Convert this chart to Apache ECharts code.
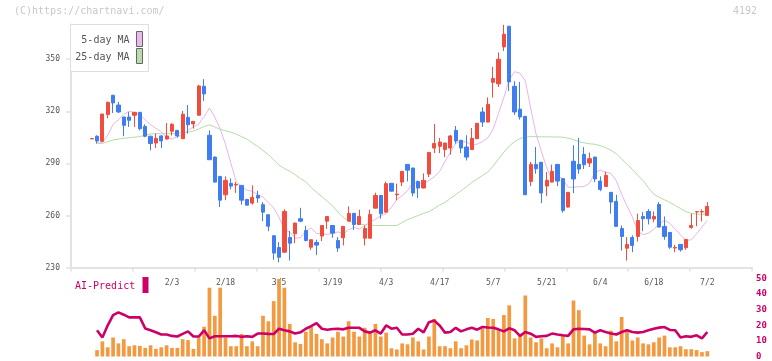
<!DOCTYPE html>
<html><head><meta charset="utf-8">
<script src="https://cdn.jsdelivr.net/npm/echarts@6/dist/echarts.min.js"></script>
<style>html,body{margin:0;padding:0;background:#fff}#c{width:772px;height:361px}</style>
</head><body><div id="c"></div>
<script>
const dates = ['1/13','1/14','1/15','1/16','1/19','1/20','1/21','1/22','1/23','1/26','1/27','1/28','1/29','1/30','2/2','2/3','2/4','2/5','2/6','2/9','2/10','2/12','2/13','2/16','2/17','2/18','2/19','2/20','2/24','2/25','2/26','2/27','3/2','3/3','3/4','3/5','3/6','3/9','3/10','3/11','3/12','3/13','3/16','3/17','3/18','3/19','3/23','3/24','3/25','3/26','3/27','3/30','3/31','4/1','4/2','4/3','4/6','4/7','4/8','4/9','4/10','4/13','4/14','4/15','4/16','4/17','4/20','4/21','4/22','4/23','4/24','4/27','4/28','4/30','5/1','5/7','5/8','5/11','5/12','5/13','5/14','5/15','5/18','5/19','5/20','5/21','5/22','5/25','5/26','5/27','5/28','5/29','6/1','6/2','6/3','6/4','6/5','6/8','6/9','6/10','6/11','6/12','6/15','6/16','6/17','6/18','6/19','6/22','6/23','6/24','6/25','6/26','6/29','6/30','7/1','7/2'];
const opens = [304.1,305.6,302.7,318.1,329.2,323.6,316.7,316.7,317.7,319.4,311.3,305.6,301.7,305.8,304.0,308.5,309.0,304.2,316.5,312.7,317.7,334.4,306.2,293.6,282.5,271.9,278.5,277.5,277.3,269.2,267.1,271.5,266.2,260.4,248.3,241.5,238.8,247.3,249.4,258.1,251.3,241.7,244.4,248.1,256.7,254.2,245.6,247.1,256.7,261.2,254.8,246.9,246.9,264.2,271.5,261.9,278.5,271.9,279.2,289.4,287.3,279.6,275.8,283.8,298.8,299.8,297.9,298.8,309.0,303.3,299.4,297.9,304.2,319.6,313.8,336.7,335.8,357.1,369.0,334.4,321.2,317.1,279.6,289.4,290.6,276.9,279.2,289.4,281.2,264.8,291.2,289.4,295.2,290.2,293.6,279.8,276.7,273.3,268.1,252.5,241.1,247.3,247.9,259.4,262.3,257.9,266.3,253.7,250.2,241.2,243.3,241.4,253.1,262.0,262.0,260.0];
const closes = [304.3,302.9,318.4,325.2,324.8,319.6,311.9,314.8,319.4,310.0,305.6,301.4,304.4,302.9,305.8,312.5,305.8,318.3,312.2,314.2,334.6,330.0,292.1,279.2,268.8,280.2,276.9,277.9,268.8,265.9,270.4,270.0,261.9,253.8,238.3,235.9,262.3,244.0,255.6,256.7,245.6,246.0,242.9,254.2,259.4,249.8,241.2,253.7,261.2,254.8,259.4,252.5,260.6,271.5,261.0,278.3,274.0,272.3,285.4,286.1,272.9,275.8,280.2,296.3,301.5,302.3,301.7,305.8,302.9,298.8,293.6,304.4,313.1,313.8,324.0,338.9,350.0,364.4,336.9,319.6,316.7,271.9,289.4,286.9,272.9,280.2,285.4,279.8,262.9,273.3,281.0,286.7,289.2,292.7,281.0,275.0,283.1,267.7,253.7,247.9,243.3,242.7,257.1,258.1,258.1,259.4,253.3,247.9,241.7,241.6,240.2,246.2,254.2,262.2,262.2,265.2];
const highs = [304.4,306.2,318.6,325.5,329.5,325.4,316.7,319.6,319.6,319.6,312.5,306.0,307.2,306.2,313.2,313.2,309.2,320.2,323.6,314.4,335.2,338.5,309.0,294.0,282.7,282.5,281.3,279.2,277.5,269.5,277.3,274.2,267.7,260.6,248.5,244.6,263.5,251.0,255.8,264.4,254.0,246.2,246.0,254.4,259.6,254.4,247.5,253.9,265.2,261.4,263.3,254.2,263.3,273.1,271.7,279.4,278.6,278.3,285.6,289.6,287.5,280.0,284.2,296.5,312.7,304.6,302.0,306.4,311.5,303.5,306.2,310.4,313.3,322.3,328.0,345.6,353.9,369.8,369.2,337.3,336.9,317.3,290.8,299.4,290.8,285.0,289.3,289.6,281.4,273.5,300.4,304.6,299.4,296.2,293.8,282.5,285.2,273.5,271.9,254.2,247.5,248.5,261.0,261.9,263.6,262.3,267.7,259.4,250.4,243.1,243.5,246.4,261.0,262.4,263.5,267.7];
const lows = [304.0,301.4,302.3,316.0,319.0,319.0,305.6,311.0,311.0,309.0,305.0,297.5,298.8,298.8,303.8,306.0,304.8,304.0,307.1,310.0,317.5,326.0,292.0,279.0,264.8,268.8,275.0,273.0,266.2,265.9,266.2,267.3,256.7,250.9,234.4,233.0,238.3,234.0,244.0,256.1,245.0,240.2,237.1,245.2,252.3,247.1,239.0,242.7,256.5,251.7,254.6,242.7,246.7,264.0,258.1,261.7,273.8,268.7,276.9,279.6,271.0,270.0,275.6,282.1,295.9,295.9,293.6,295.0,301.4,295.9,291.7,297.7,304.0,311.0,313.6,327.9,334.0,354.8,331.7,317.9,315.2,271.7,276.9,284.0,267.1,271.1,279.0,276.9,261.7,264.6,272.9,284.0,286.7,287.9,279.2,274.0,276.5,261.0,253.5,239.8,234.0,238.8,245.0,250.9,254.8,256.1,253.0,246.0,240.8,238.8,239.2,240.2,252.3,253.8,256.5,259.8];
const ma5 = ['-',301.7,301.9,306.2,312.5,315.1,318.2,320.0,319.3,318.1,315.1,312.3,310.2,308.2,304.9,304.0,305.4,306.3,309.1,310.9,312.6,317.0,321.9,316.6,310.0,300.9,290.1,279.4,276.6,274.5,273.9,272.0,270.6,267.4,264.4,258.9,252.0,250.4,246.9,247.2,250.9,252.8,249.6,249.4,249.1,249.6,250.5,249.5,251.7,253.1,252.1,254.1,256.3,257.7,259.8,261.0,264.8,269.1,271.4,274.2,279.2,278.1,278.5,280.1,282.3,285.3,291.2,296.4,301.5,302.8,302.3,300.6,301.1,302.6,304.7,309.8,318.8,328.0,338.2,342.8,342.0,337.5,321.9,306.9,296.9,287.6,280.3,283.0,281.0,276.2,276.3,276.5,276.7,278.6,284.6,286.1,284.9,284.2,279.9,272.1,265.5,259.1,251.1,248.9,249.8,251.9,255.1,257.2,255.4,252.1,248.8,245.5,246.0,249.4,253.3,257.1];
const ma25 = ['-',301.7,301.5,302.5,303.5,304.0,304.4,304.8,305.1,305.4,306.2,307.0,307.1,307.1,307.1,307.1,307.4,307.7,308.0,308.6,309.8,311.2,312.2,311.0,309.6,308.8,308.0,306.8,305.4,304.0,301.8,299.8,297.4,295.0,292.2,289.0,287.0,285.5,283.5,281.2,279.5,276.0,273.4,270.8,268.2,265.5,262.0,258.8,256.8,255.8,255.0,254.6,254.4,254.2,254.2,254.2,254.2,254.2,256.0,257.6,258.8,260.0,261.2,262.2,264.0,266.0,267.5,269.8,272.0,274.2,276.5,279.0,281.0,283.0,285.0,288.5,292.5,296.5,300.0,302.5,304.3,305.2,305.4,305.4,305.3,305.3,305.2,305.2,305.1,304.5,303.7,302.5,301.8,301.3,301.0,300.2,299.0,297.5,295.5,292.5,289.5,286.5,283.2,280.0,276.0,272.2,270.5,269.0,267.5,265.7,264.0,262.2,261.2,260.8,260.6,260.6];
const volume = ['-',4.1,9.7,5.9,12.2,8.4,11.1,6.6,7.2,6.8,5.5,7.2,4.9,5.9,7.2,5.5,5.5,11.1,10.5,4.9,12.2,19.1,44.1,26.1,44.1,12.2,6.6,6.6,14.5,6.6,9.7,6.6,26.1,22.6,35.5,49.7,44.1,20.9,9.1,8.0,15.9,19.1,14.5,11.1,8.4,12.2,15.9,12.8,22.6,15.9,12.8,18.4,15.3,20.9,12.8,15.3,5.3,4.5,8.4,7.8,12.2,9.7,4.5,12.8,24.1,6.6,6.6,5.3,9.7,5.3,7.2,10.9,10.3,17.8,24.7,24.1,17.2,26.6,32.8,11.6,14.1,39.1,12.2,9.1,11.6,5.3,8.4,5.9,13.4,8.4,35.9,29.7,13.4,7.8,15.3,8.4,6.6,16.6,9.7,25.3,17.2,10.3,12.2,8.4,7.8,9.1,12.2,13.4,5.9,5.9,6.6,4.7,4.7,4.1,2.8,3.4];
const aiPredict = ['-',16.8,12.2,20.0,26.5,28.3,26.8,25.1,25.1,25.1,18.0,16.8,15.5,14.1,14.1,13.2,12.8,14.5,16.1,12.8,12.8,16.8,11.6,13.0,13.0,13.0,13.0,13.2,12.6,13.0,12.6,14.7,14.7,14.5,14.4,17.8,16.8,16.1,14.7,15.5,17.8,19.5,21.4,17.8,17.2,17.6,17.8,17.4,18.4,18.4,18.4,16.1,15.3,16.8,14.7,19.9,17.8,18.4,14.1,14.1,14.6,17.8,15.5,22.0,23.0,19.9,15.3,15.7,18.4,16.1,17.4,18.4,17.2,18.9,18.6,18.4,17.4,16.1,18.1,16.8,13.2,15.7,14.6,12.6,13.0,13.2,14.7,14.1,13.6,13.2,17.4,17.8,17.6,17.4,15.3,16.8,15.7,14.7,14.1,15.7,16.8,15.7,15.3,15.7,16.8,17.8,18.5,18.9,17.0,16.8,12.2,13.0,12.6,13.6,11.6,15.7];
const priceTicks = [230,260,290,320,350];
const predictTicks = [0,10,20,30,40,50];
const firstLabelIndex = 15;
const labelStep = 10;

const candles = dates.map((d,i)=>[opens[i],closes[i],lows[i],highs[i]]);
const mono = 'DejaVu Sans Mono';
const axisGray = '#e2e2e2';
const chart = echarts.init(document.getElementById('c'), null, {renderer:'canvas'});
chart.setOption({
  animation:false,
  backgroundColor:'#fff',
  grid:[
    {left:71, right:20, top:24.5, height:243},
    {left:89, width:621, top:24.5, height:243},
    {left:89, width:621, top:278.5, height:80}
  ],
  xAxis:[
    {gridIndex:0, type:'value', min:0, max:11, interval:1,
     axisLine:{show:true, lineStyle:{color:axisGray, width:2}},
     axisTick:{show:true, length:4, lineStyle:{color:axisGray, width:1.5}},
     axisLabel:{show:false}, splitLine:{show:false}},
    {gridIndex:1, type:'category', data:dates,
     axisLine:{show:false}, axisTick:{show:false}, splitLine:{show:false},
     axisLabel:{show:true, interval:(idx)=> idx>=firstLabelIndex && (idx-firstLabelIndex)%labelStep===0,
       fontFamily:mono, fontSize:8, color:'#555', margin:11}},
    {gridIndex:2, type:'category', data:dates, show:false}
  ],
  yAxis:[
    {gridIndex:0, type:'value', min:230, max:370, interval:30,
     axisLine:{show:true, lineStyle:{color:axisGray, width:2}},
     axisTick:{show:true, length:5, customValues:priceTicks, lineStyle:{color:axisGray, width:1.5}},
     axisLabel:{show:true, customValues:priceTicks, fontFamily:mono, fontSize:8, color:'#555', margin:11},
     splitLine:{show:false}},
    {gridIndex:1, type:'value', min:230, max:370, show:false},
    {gridIndex:2, type:'value', min:0, max:50, interval:10, position:'right', offset:42,
     axisLine:{show:false}, axisTick:{show:false}, splitLine:{show:false},
     axisLabel:{show:true, customValues:predictTicks, fontFamily:mono, fontSize:9, fontWeight:'bold', color:'#cc0066', margin:4}}
  ],
  series:[
    {type:'line', name:'25-day MA', xAxisIndex:1, yAxisIndex:1, data:ma25, symbol:'none', z:2,
     lineStyle:{color:'#b5dca6', width:1}},
    {type:'line', name:'5-day MA', xAxisIndex:1, yAxisIndex:1, data:ma5, symbol:'none', z:2,
     lineStyle:{color:'#e8b6ea', width:1}},
    {type:'candlestick', xAxisIndex:1, yAxisIndex:1, data:candles, barWidth:3.7, z:3,
     itemStyle:{color:'#f14d3f', color0:'#3f7df0', borderColor:'#f14d3f', borderColor0:'#3f7df0', borderWidth:1}},
    {type:'bar', xAxisIndex:2, yAxisIndex:2, data:volume, barWidth:3.7, z:2,
     itemStyle:{color:'#f39a41'}},
    {type:'line', xAxisIndex:2, yAxisIndex:2, data:aiPredict, symbol:'none', z:4,
     lineStyle:{color:'#cc0066', width:2.6}}
  ],
  graphic:[
    {type:'text', left:14, top:6, z:10, style:{text:'(C)https://chartnavi.com/', font:'10px "DejaVu Sans Mono"', fill:'#c8c8c8'}},
    {type:'text', right:15, top:6, z:10, style:{text:'4192', font:'10px "DejaVu Sans Mono"', fill:'#c8c8c8'}},
    {type:'rect', z:20, shape:{x:70.5, y:24.5, width:78, height:47}, style:{fill:'#fff', stroke:'#dedede', lineWidth:1}},
    {type:'text', z:21, x:129.5, y:40, style:{text:'5-day MA', font:'10px "DejaVu Sans Mono"', fill:'#555', align:'right', verticalAlign:'middle'}},
    {type:'text', z:21, x:129.5, y:57, style:{text:'25-day MA', font:'10px "DejaVu Sans Mono"', fill:'#555', align:'right', verticalAlign:'middle'}},
    {type:'rect', z:21, shape:{x:136.5, y:31.5, width:6, height:15}, style:{fill:'#ebb9eb', stroke:'#666', lineWidth:1}},
    {type:'rect', z:21, shape:{x:136.5, y:48.5, width:6, height:15}, style:{fill:'#b9dcaa', stroke:'#666', lineWidth:1}},
    {type:'text', z:21, x:75, y:286, style:{text:'AI-Predict', font:'10px "DejaVu Sans Mono"', fill:'#cc0066', verticalAlign:'middle'}},
    {type:'rect', z:21, shape:{x:142.5, y:277, width:6, height:16}, style:{fill:'#cc0066'}}
  ]
});
</script></body></html>
